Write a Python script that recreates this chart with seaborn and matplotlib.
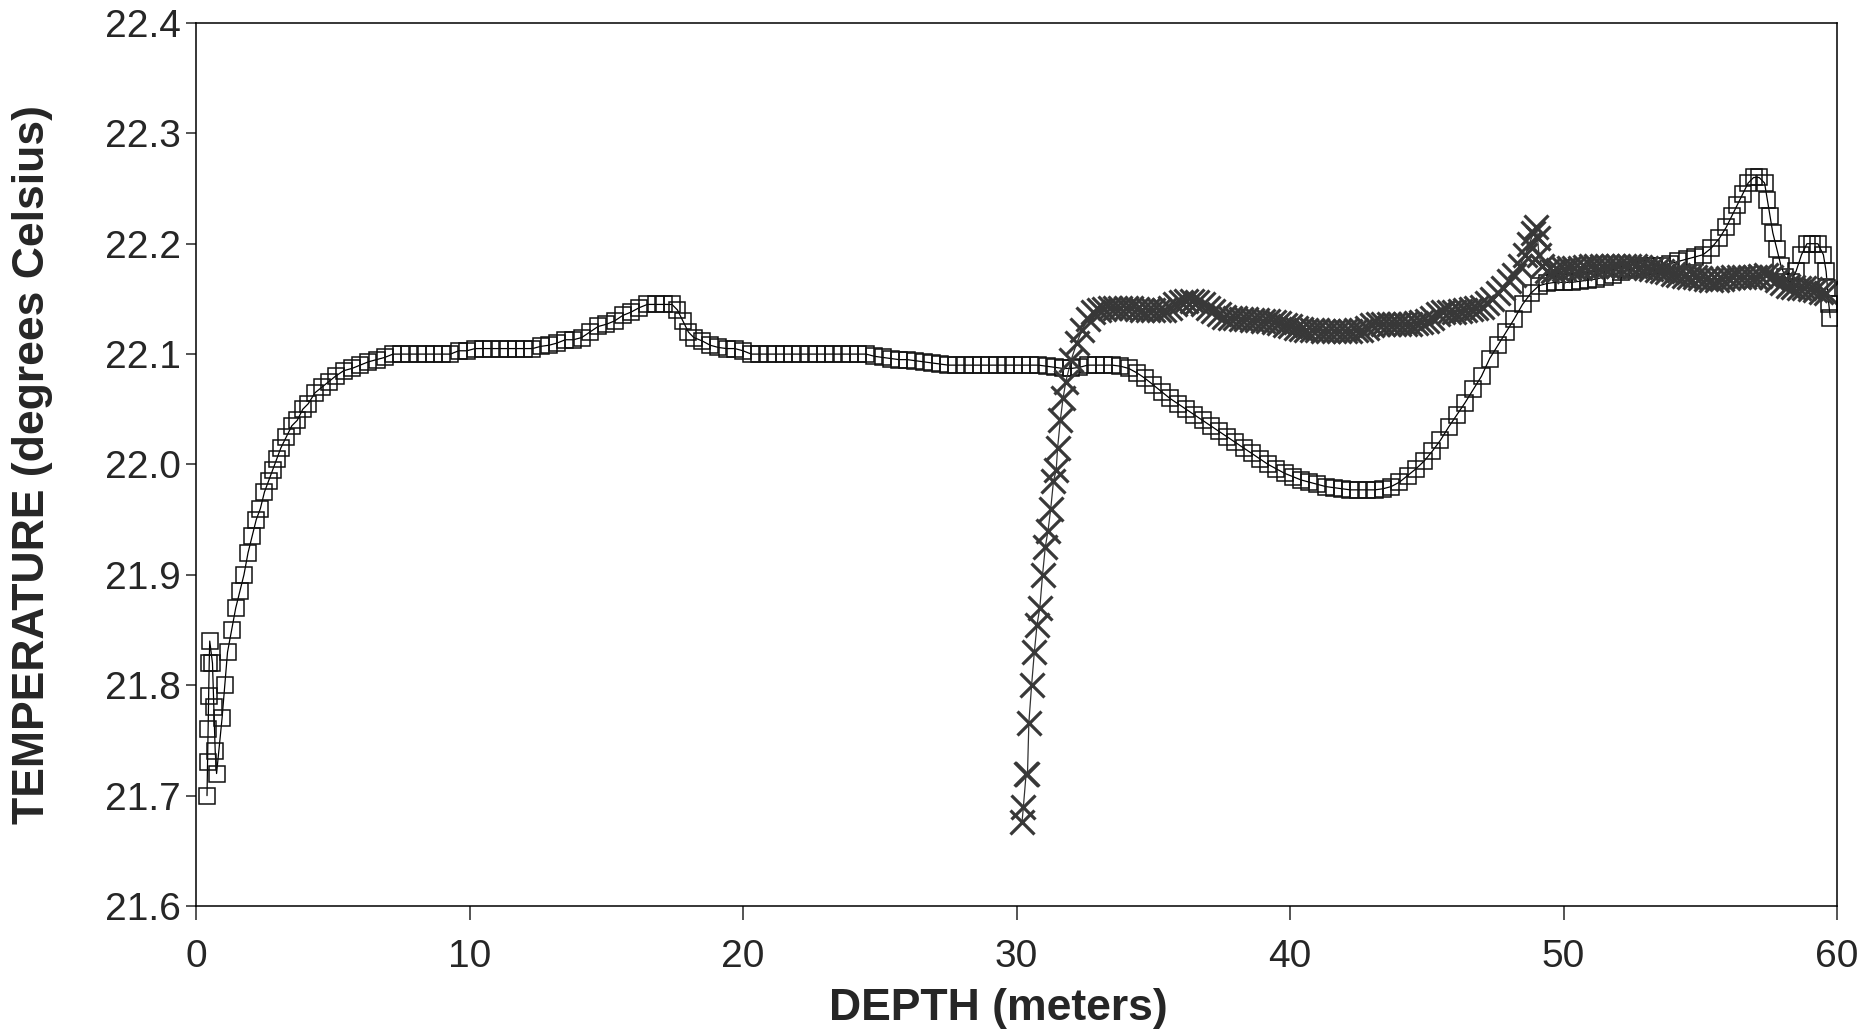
import matplotlib
matplotlib.use("Agg")
import matplotlib.pyplot as plt
import seaborn as sns

# probe 1: square markers (0 - 60 m)
sq_depth = [0.40, 0.42, 0.44, 0.46, 0.48, 0.50, 0.60, 0.65, 0.70, 0.75, 0.95, 1.05,
            1.15, 1.30, 1.45, 1.60, 1.75, 1.90, 2.05, 2.20, 2.35, 2.50, 2.65, 2.80,
            2.95, 3.10, 3.30, 3.50, 3.70, 3.90, 4.10, 4.35, 4.60, 4.85, 5.10, 5.40,
            5.70, 6.00, 6.30, 6.60, 6.90, 7.20, 7.50, 7.80, 8.10, 8.40, 8.70, 9.00,
            9.30, 9.60, 9.90, 10.2, 10.5, 10.8, 11.1, 11.4, 11.7, 12.0, 12.3, 12.6,
            12.9, 13.2, 13.5, 13.8, 14.1, 14.4, 14.7, 15.0, 15.3, 15.6, 15.9, 16.2,
            16.5, 16.8, 17.1, 17.4, 17.6, 17.8, 18.0, 18.2, 18.5, 18.8, 19.1, 19.4,
            19.7, 20.0, 20.3, 20.6, 20.9, 21.2, 21.5, 21.8, 22.1, 22.4, 22.7, 23.0,
            23.3, 23.6, 23.9, 24.2, 24.5, 24.8, 25.1, 25.4, 25.7, 26.0, 26.3, 26.6,
            26.9, 27.2, 27.5, 27.8, 28.1, 28.4, 28.7, 29.0, 29.3, 29.6, 29.9, 30.2,
            30.5, 30.8, 31.1, 31.4, 31.7, 32.0, 32.3, 32.6, 32.9, 33.2, 33.5, 33.8,
            34.1, 34.4, 34.7, 35.0, 35.3, 35.6, 35.9, 36.2, 36.5, 36.8, 37.1, 37.4,
            37.7, 38.0, 38.3, 38.6, 38.9, 39.2, 39.5, 39.8, 40.1, 40.4, 40.7, 41.0,
            41.3, 41.6, 41.9, 42.2, 42.5, 42.8, 43.1, 43.4, 43.7, 44.0, 44.3, 44.6,
            44.9, 45.2, 45.5, 45.8, 46.1, 46.4, 46.7, 47.0, 47.3, 47.6, 47.9, 48.2,
            48.5, 48.8, 49.1, 49.4, 49.7, 50.0, 50.3, 50.6, 50.9, 51.2, 51.5, 51.8,
            52.1, 52.4, 52.7, 53.0, 53.3, 53.6, 53.9, 54.2, 54.5, 54.8, 55.1, 55.4,
            55.7, 55.95, 56.15, 56.35, 56.55, 56.75, 56.95, 57.15, 57.35, 57.45, 57.55,
            57.65, 57.8, 57.95, 58.1, 58.3, 58.5, 58.7, 58.9, 59.1, 59.3, 59.5, 59.6,
            59.65, 59.7, 59.75]
sq_temp = [21.70, 21.73, 21.76, 21.79, 21.82, 21.84, 21.82, 21.78, 21.74, 21.72, 21.77, 21.80,
           21.83, 21.85, 21.87, 21.885, 21.90, 21.92, 21.935, 21.95, 21.96, 21.975, 21.985, 21.995,
           22.005, 22.015, 22.025, 22.035, 22.04, 22.05, 22.055, 22.065, 22.07, 22.075, 22.08, 22.085,
           22.087, 22.09, 22.093, 22.095, 22.097, 22.1, 22.1, 22.1, 22.1, 22.1, 22.1, 22.1,
           22.1, 22.103, 22.103, 22.105, 22.105, 22.105, 22.105, 22.105, 22.105, 22.105, 22.105, 22.107,
           22.108, 22.11, 22.113, 22.113, 22.115, 22.12, 22.125, 22.127, 22.13, 22.135, 22.138, 22.142,
           22.145, 22.145, 22.145, 22.145, 22.14, 22.13, 22.12, 22.115, 22.112, 22.108, 22.106, 22.105,
           22.105, 22.103, 22.1, 22.1, 22.1, 22.1, 22.1, 22.1, 22.1, 22.1, 22.1, 22.1,
           22.1, 22.1, 22.1, 22.1, 22.1, 22.098, 22.097, 22.096, 22.095, 22.095, 22.094, 22.093,
           22.092, 22.091, 22.09, 22.09, 22.09, 22.09, 22.09, 22.09, 22.09, 22.09, 22.09, 22.09,
           22.09, 22.09, 22.089, 22.088, 22.087, 22.087, 22.088, 22.09, 22.09, 22.09, 22.09, 22.089,
           22.087, 22.083, 22.078, 22.072, 22.066, 22.06, 22.055, 22.05, 22.045, 22.04, 22.035, 22.03,
           22.025, 22.02, 22.015, 22.01, 22.005, 22.0, 21.996, 21.992, 21.989, 21.986, 21.984, 21.982,
           21.98, 21.979, 21.978, 21.977, 21.977, 21.977, 21.977, 21.978, 21.98, 21.984, 21.99, 21.996,
           22.003, 22.012, 22.022, 22.034, 22.045, 22.056, 22.068, 22.08, 22.096, 22.108, 22.12, 22.132,
           22.145, 22.155, 22.162, 22.164, 22.165, 22.165, 22.165, 22.166, 22.167, 22.168, 22.17, 22.172,
           22.174, 22.176, 22.178, 22.18, 22.18, 22.18, 22.182, 22.184, 22.186, 22.188, 22.19, 22.196,
           22.205, 22.215, 22.225, 22.235, 22.245, 22.255, 22.26, 22.26, 22.255, 22.24, 22.225,
           22.21, 22.195, 22.18, 22.17, 22.165, 22.175, 22.19, 22.2, 22.2, 22.2, 22.19, 22.175,
           22.16, 22.145, 22.133]

# probe 2: x markers (30 - 60 m)
x_depth = [30.20, 30.25, 30.35, 30.40, 30.45, 30.55, 30.65, 30.75, 30.85, 30.95, 31.05, 31.15,
           31.25, 31.35, 31.45, 31.50, 31.60, 31.70, 31.80, 32.00, 32.20, 32.40, 32.60, 32.80,
           33.0, 33.2, 33.4, 33.6, 33.8, 34.0, 34.2, 34.4, 34.6, 34.8, 35.0, 35.2,
           35.4, 35.6, 35.8, 36.0, 36.2, 36.4, 36.6, 36.8, 37.0, 37.2, 37.4, 37.6,
           37.8, 38.0, 38.2, 38.4, 38.6, 38.8, 39.0, 39.2, 39.4, 39.6, 39.8, 40.0,
           40.2, 40.4, 40.6, 40.8, 41.0, 41.2, 41.4, 41.6, 41.8, 42.0, 42.2, 42.4,
           42.6, 42.8, 43.0, 43.2, 43.4, 43.6, 43.8, 44.0, 44.2, 44.4, 44.6, 44.8,
           45.0, 45.2, 45.4, 45.6, 45.8, 46.0, 46.2, 46.4, 46.6, 46.8, 47.0, 47.2,
           47.4, 47.6, 47.8, 48.0, 48.2, 48.4, 48.6, 48.75, 48.9, 49.0, 49.05, 49.1,
           49.2, 49.4, 49.6, 49.8, 50.0, 50.2, 50.4, 50.6, 50.8, 51.0, 51.2, 51.4,
           51.6, 51.8, 52.0, 52.2, 52.4, 52.6, 52.8, 53.0, 53.2, 53.4, 53.6, 53.8,
           54.0, 54.2, 54.4, 54.6, 54.8, 55.0, 55.2, 55.4, 55.6, 55.8, 56.0, 56.2,
           56.4, 56.6, 56.8, 57.0, 57.2, 57.4, 57.6, 57.8, 58.0, 58.2, 58.4, 58.6,
           58.8, 59.0, 59.2, 59.4, 59.6]
x_temp = [21.676, 21.69, 21.72, 21.72, 21.766, 21.80, 21.83, 21.855, 21.87, 21.90, 21.925, 21.94,
          21.96, 21.985, 21.995, 22.015, 22.04, 22.06, 22.075, 22.095, 22.11, 22.122, 22.132, 22.138,
          22.14, 22.141, 22.142, 22.142, 22.142, 22.142, 22.142, 22.141, 22.14, 22.14, 22.14, 22.14,
          22.14, 22.142, 22.145, 22.147, 22.148, 22.148, 22.147, 22.145, 22.142, 22.139, 22.136, 22.134,
          22.133, 22.133, 22.132, 22.132, 22.131, 22.131, 22.13, 22.13, 22.129, 22.128, 22.126, 22.125,
          22.124, 22.123, 22.122, 22.122, 22.122, 22.121, 22.121, 22.121, 22.121, 22.121, 22.121, 22.122,
          22.122, 22.124, 22.126, 22.127, 22.127, 22.127, 22.127, 22.127, 22.127, 22.127, 22.128, 22.129,
          22.13, 22.133, 22.136, 22.138, 22.138, 22.138, 22.139, 22.14, 22.141, 22.142, 22.143, 22.146,
          22.15, 22.155, 22.16, 22.166, 22.172, 22.18, 22.19, 22.2, 22.21, 22.215, 22.205, 22.19,
          22.18, 22.175, 22.175, 22.176, 22.177, 22.178, 22.178, 22.178, 22.179, 22.18, 22.18, 22.18,
          22.18, 22.18, 22.18, 22.18, 22.18, 22.18, 22.179, 22.178, 22.177, 22.176, 22.175, 22.174,
          22.173, 22.172, 22.171, 22.17, 22.17, 22.169, 22.168, 22.167, 22.167, 22.168, 22.169, 22.17,
          22.17, 22.17, 22.17, 22.17, 22.171, 22.172, 22.17, 22.167, 22.164, 22.162, 22.161, 22.16,
          22.16, 22.159, 22.158, 22.156, 22.155]

x_ticks = [0, 10, 20, 30, 40, 50, 60]
y_ticks = [21.6, 21.7, 21.8, 21.9, 22.0, 22.1, 22.2, 22.3, 22.4]

sns.set_style("ticks")
plt.rcParams['font.family'] = ['Liberation Sans', 'DejaVu Sans']

fig = plt.figure(figsize=(18.62, 10.34), dpi=100)
ax = fig.add_axes([0.1053, 0.1238, 0.8813, 0.854])

sns.lineplot(x=sq_depth, y=sq_temp, ax=ax, sort=False, estimator=None, color="black",
             linewidth=0.9, marker="s", markersize=11.5, markerfacecolor="none",
             markeredgecolor="#111111", markeredgewidth=1.1)
sns.lineplot(x=x_depth, y=x_temp, ax=ax, sort=False, estimator=None, color="#333333",
             linewidth=0.9, marker="x", markersize=17, markeredgecolor="#383838",
             markeredgewidth=2.3)

ax.set_xlim(0, 60)
ax.set_ylim(21.6, 22.4)
ax.set_xticks(x_ticks)
ax.set_yticks(y_ticks)
ax.set_yticklabels([f"{v:.1f}" for v in y_ticks])
ax.tick_params(axis="y", direction="out", length=7, width=1.1, pad=4, labelsize=28)
ax.tick_params(axis="x", direction="out", length=10, width=1.1, pad=14, labelsize=28)
for s in ax.spines.values():
    s.set_visible(True)
    s.set_linewidth(1.1)
    s.set_color("black")

ax.set_xlabel("DEPTH (meters)", fontsize=32, fontweight="bold")
ax.set_ylabel("TEMPERATURE (degrees Celsius)", fontsize=32, fontweight="bold")
ax.xaxis.set_label_coords(0.489, -0.093)
ax.yaxis.set_label_coords(-0.087, 0.5)

fig.savefig("out.png", dpi=100)
